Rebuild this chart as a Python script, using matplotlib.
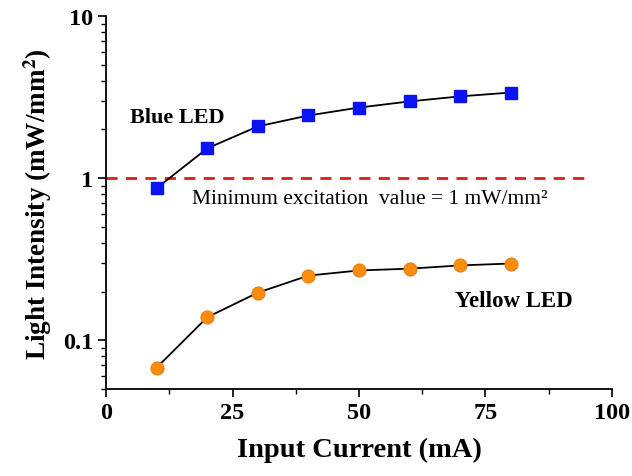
import matplotlib
matplotlib.use("Agg")
import matplotlib.pyplot as plt
from matplotlib.ticker import MultipleLocator, FixedLocator, LogLocator, NullFormatter

current = [10, 20, 30, 40, 50, 60, 70, 80]
blue = [0.87, 1.53, 2.09, 2.44, 2.73, 2.98, 3.2, 3.38]
yellow = [0.068, 0.139, 0.197, 0.251, 0.27, 0.277, 0.29, 0.298]
xticks = [0, 25, 50, 75, 100]
yticks = [0.1, 1, 10]
ytick_labels = ["0.1", "1", "10"]

plt.rcParams['font.family'] = ['Liberation Serif', 'DejaVu Serif']
plt.rcParams['mathtext.fontset'] = 'stix'

fig = plt.figure(figsize=(6.32, 4.77), dpi=100)
ax = fig.add_axes([0.168, 0.182, 0.8, 0.782])

ax.plot(current, blue, '-', color='black', lw=1.3, marker='s', ms=8.5,
        mfc='#0a14f0', mec='#0a14f0', zorder=3)
ax.plot(current, yellow, '-', color='black', lw=1.3, marker='o', ms=9.5,
        mfc='#ff8c0a', mec='#d87a10', mew=0.6, zorder=3)
ax.axhline(1, xmin=0, xmax=0.96, color='#d42020', ls=(0, (4, 3)), lw=2, zorder=2)

ax.set_yscale('log')
ax.set_xlim(0, 100)
ax.set_ylim(0.05, 10)
ax.xaxis.set_major_locator(FixedLocator(xticks))
ax.xaxis.set_minor_locator(MultipleLocator(12.5))
ax.set_xticklabels([str(t) for t in xticks])
ax.yaxis.set_major_locator(FixedLocator(yticks))
ax.set_yticklabels(ytick_labels)
ax.yaxis.set_minor_locator(LogLocator(base=10, subs=range(2, 10)))
ax.yaxis.set_minor_formatter(NullFormatter())

for s in ['top', 'right']:
    ax.spines[s].set_visible(False)
for s in ['left', 'bottom']:
    ax.spines[s].set_linewidth(1.3)

ax.tick_params(which='major', direction='out', length=6, width=1.2, labelsize=17.5)
ax.tick_params(which='minor', direction='out', length=3.5, width=1.0)
for lab in ax.get_xticklabels() + ax.get_yticklabels():
    lab.set_fontweight('bold')

ax.set_xlabel('Input Current (mA)', fontsize=20.5, fontweight='bold', labelpad=10)
ax.set_ylabel('Light Intensity (mW/mm$^\\mathbf{2}$)', fontsize=19.5, fontweight='bold', labelpad=6)

ax.text(4.7, 2.4, 'Blue LED', fontsize=16, fontweight='bold', va='center', ha='left')
ax.text(69, 0.176, 'Yellow LED', fontsize=16.5, fontweight='bold', va='center', ha='left')
ax.text(17, 0.75, 'Minimum excitation  value = 1 mW/mm\u00b2', fontsize=15.5, va='center', ha='left')

fig.savefig('out.png', dpi=100)
